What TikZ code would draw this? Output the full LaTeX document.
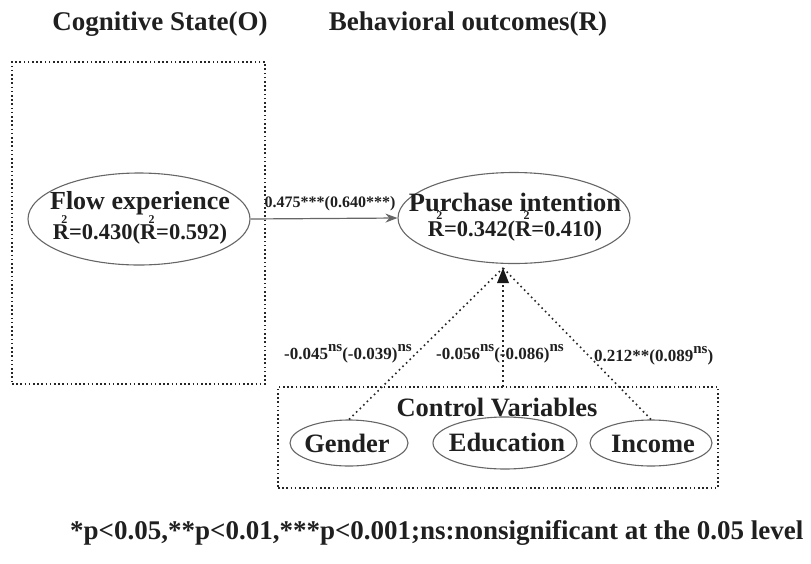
\documentclass[tikz,border=0pt]{standalone}
\usepackage{fontspec}
\setmainfont{Liberation Serif}
\usetikzlibrary{shapes.geometric,arrows.meta}
\newcommand\Rtwo{R\rlap{\kern-0.34em\raisebox{0.74em}{\fontsize{12}{12}\selectfont 2}}}
\newcommand\nsup{\raisebox{0.45em}{\fontsize{15}{15}\selectfont ns}}
\tikzset{
  dotbox/.style={draw=black!85, line width=1.6pt, dash pattern=on 1.6pt off 2.6pt},
  dotline/.style={draw=black!85, line width=1.6pt, dash pattern=on 1.6pt off 3.4pt},
  ell/.style={ellipse, draw=black!60, line width=1.1pt, inner sep=0pt},
  bigtxt/.style={font=\fontsize{27}{29}\selectfont\bfseries, text=black!88, align=center, inner sep=0pt},
  midtxt/.style={font=\fontsize{26.5}{29}\selectfont\bfseries, text=black!88, align=center, inner sep=0pt},
  lbl/.style={font=\fontsize{17}{19}\selectfont\bfseries, text=black!88, inner sep=0pt},
}
\begin{document}
\begin{tikzpicture}[x=1pt,y=-1pt]
\useasboundingbox (0,0) rectangle (811,563);
% titles
\node[bigtxt] (t1) at (160,24) {Cognitive State(O)};
\node[bigtxt] (t2) at (468,24) {Behavioral outcomes(R)};
% left dotted box
\node[dotbox, minimum width=253pt, minimum height=322pt, inner sep=0pt] (obox) at (138.5,223) {};
% flow experience
\node[ell, minimum width=222pt, minimum height=92pt] (flow) at (139,219) {};
\node[align=center, inner sep=0pt, text=black!88] (flowtxt) at (140,218)
  {{\fontsize{26}{29}\selectfont\bfseries Flow experience}\\[-1pt]
   {\fontsize{22.5}{29}\selectfont\bfseries \Rtwo=0.430(\Rtwo=0.592)}};
% purchase intention
\node[ell, minimum width=232pt, minimum height=91pt] (pur) at (514,218) {};
\node[align=center, inner sep=0pt, text=black!88] (purtxt) at (515,217)
  {{\fontsize{26.5}{29}\selectfont\bfseries Purchase intention}\\[-1pt]
   {\fontsize{22.5}{29}\selectfont\bfseries \Rtwo=0.342(\Rtwo=0.410)}};
% main arrow
\draw[draw=black!60, line width=1.2pt, -{Stealth[length=12pt,width=9pt]}] (flow.east) -- (pur.west);
\node[lbl, font=\fontsize{16}{18}\selectfont\bfseries] (lab1) at (330,204) {0.475***(0.640***)};
% control variables box
\node[dotbox, minimum width=440pt, minimum height=101pt, inner sep=0pt] (cbox) at (498,437.5) {};
\node[midtxt] (ctitle) at (497,407) {Control Variables};
\node[ell, minimum width=118pt, minimum height=46pt] (gender) at (349,443) {};
\node[midtxt] (gtxt) at (347,443) {Gender};
\node[ell, minimum width=144pt, minimum height=52pt] (edu) at (505,443) {};
\node[midtxt] (etxt) at (507,442) {Education};
\node[ell, minimum width=122pt, minimum height=46pt] (inc) at (651,443) {};
\node[midtxt] (itxt) at (653,444) {Income};
% dotted connectors
\coordinate (apex) at (503,268);
\coordinate (boxtop) at (503,387);
\draw[dotline] (gender.north) -- (apex);
\draw[dotline] (inc.north) -- (apex);
\draw[dotline] (boxtop) -- (apex);
\fill[black!90] (apex) -- ++(-6,15) -- ++(12,0) -- cycle;
% labels
\node[lbl, anchor=west] (l1) at (284,354) {-0.045\nsup(-0.039)\nsup};
\node[lbl, anchor=west] (l2) at (436,354) {-0.056\nsup(-0.086)\nsup};
\node[lbl, anchor=west] (l3) at (594,356) {0.212**(0.089\nsup)};
% note
\node[bigtxt, font=\fontsize{27}{29}\selectfont\bfseries, anchor=west] (note) at (70,533)
  {*p<0.05,**p<0.01,***p<0.001;ns:nonsignificant at the 0.05 level};
\end{tikzpicture}
\end{document}
